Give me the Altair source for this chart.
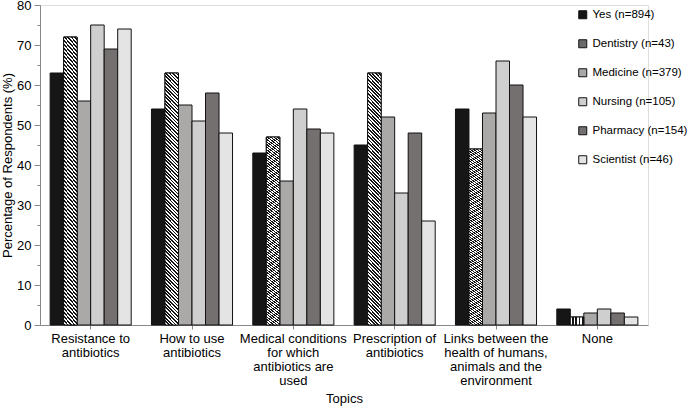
import altair as alt
import pandas as pd

categories = [
    "Resistance to\nantibiotics",
    "How to use\nantibiotics",
    "Medical conditions\nfor which\nantibiotics are\nused",
    "Prescription of\nantibiotics",
    "Links between the\nhealth of humans,\nanimals and the\nenvironment",
    "None",
]
series_names = [
    "Yes (n=894)",
    "Dentistry (n=43)",
    "Medicine (n=379)",
    "Nursing (n=105)",
    "Pharmacy (n=154)",
    "Scientist (n=46)",
]
yes = [63, 54, 43, 45, 54, 4]
dentistry = [72, 63, 47, 63, 44, 2]
medicine = [56, 55, 36, 52, 53, 3]
nursing = [75, 51, 54, 33, 66, 4]
pharmacy = [69, 58, 49, 48, 60, 3]
scientist = [74, 48, 48, 26, 52, 2]
y_ticks = [0, 5, 10, 15, 20, 25, 30, 35, 40, 45, 50, 55, 60, 65, 70, 75, 80]

series_values = [yes, dentistry, medicine, nursing, pharmacy, scientist]
colors = ["#161616", "#6a6a6a", "#aba8a8", "#cfcfcf", "#747070", "#e4e4e4"]

rows = []
for name, vals in zip(series_names, series_values):
    for cat, v in zip(categories, vals):
        rows.append({"topic": cat, "series": name, "value": v})
df = pd.DataFrame(rows)

# diagonal hatch fill (style only)
k = 18.0
tmax = (1 + k) / (1 + k * k)
period = 1.0 / (4 * (1 + k * k))
stops = []
i = 0
while i * period <= tmax + period:
    t0 = i * period
    stops += [
        alt.GradientStop(offset=t0, color="#141414"),
        alt.GradientStop(offset=t0 + period * 0.5, color="#141414"),
        alt.GradientStop(offset=t0 + period * 0.5, color="#ffffff"),
        alt.GradientStop(offset=t0 + period, color="#ffffff"),
    ]
    i += 1
hatch = alt.Gradient(gradient="linear", stops=stops, x1=0, y1=1, x2=1, y2=1 - k)

FONT = "Liberation Sans"

x_enc = alt.X(
    "topic:N",
    sort=categories,
    scale=alt.Scale(paddingInner=0.2, paddingOuter=0.1),
    axis=alt.Axis(
        title="Topics",
        labelAngle=0,
        labelExpr="split(datum.label, '\\n')",
        labelLineHeight=14,
        labelFontSize=13,
        labelPadding=3,
        tickSize=4,
        titleFontSize=13,
        titleFontWeight="normal",
        titlePadding=5,
        labelLimit=200,
    ),
)
xoff = alt.XOffset(
    "series:N", sort=series_names,
    scale=alt.Scale(domain=series_names, paddingInner=0, paddingOuter=0),
)
y_enc = alt.Y(
    "value:Q",
    scale=alt.Scale(domain=[0, 80], nice=False),
    axis=alt.Axis(
        title="Percentage of Respondents (%)",
        values=y_ticks,
        labelExpr="datum.value % 10 === 0 ? datum.label : ''",
        labelOverlap=False,
        tickSize={"condition": {"test": "datum.value % 10 !== 0", "value": 3}, "value": 6},
        ticks=True,
        grid=False,
        labelFontSize=13,
        labelPadding=3,
        titleFontSize=13,
        titleFontWeight="normal",
        titlePadding=2,
    ),
)

base = alt.Chart(df).encode(x=x_enc, xOffset=xoff, y=y_enc)

bars = base.mark_bar(stroke="#111111", strokeWidth=1).encode(
    color=alt.Color(
        "series:N",
        sort=series_names,
        scale=alt.Scale(domain=series_names, range=colors),
        legend=alt.Legend(
            title=None,
            orient="none",
            legendX=537,
            legendY=4,
            symbolType="square",
            symbolSize=64,
            symbolStrokeColor="#111111",
            symbolStrokeWidth=1,
            labelFontSize=11.5,
            labelFont=FONT,
            labelOffset=4,
            rowPadding=16,
            padding=0,
            labelLimit=200,
        ),
    ),
)

hatched = base.transform_filter(
    alt.datum.series == series_names[1]
).mark_bar(stroke="#111111", strokeWidth=1, fill=hatch)

chart = alt.layer(bars, hatched).properties(
    width=608,
    height=320,
    autosize=alt.AutoSizeParams(type="none"),
    padding={"left": 40, "top": 5, "right": 42, "bottom": 81},
).configure_axis(
    domainColor="#111111",
    tickColor="#111111",
    labelColor="#111111",
    titleColor="#111111",
    labelFont=FONT,
    titleFont=FONT,
).configure_view(stroke=None).configure(background="white")

chart.save("out.html", embed_options={"renderer": "svg", "actions": False})
